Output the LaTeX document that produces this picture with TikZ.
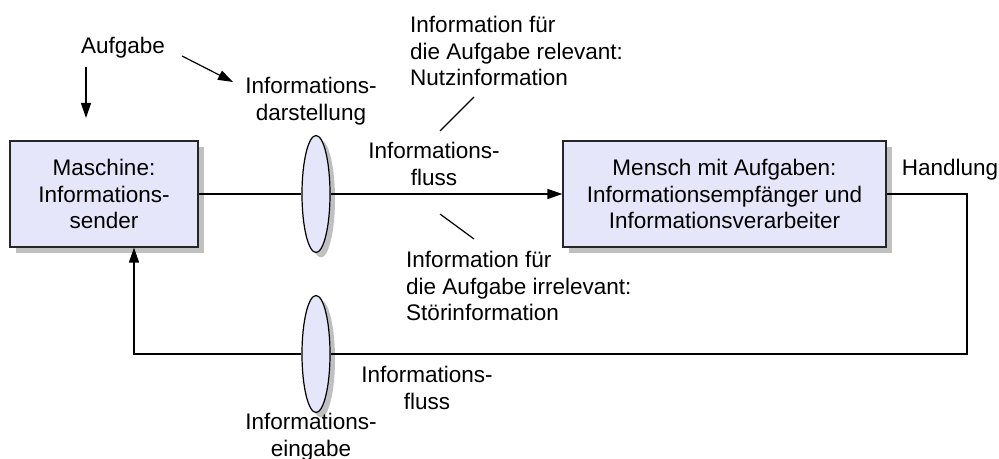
\documentclass[tikz,border=0pt]{standalone}
\usepackage{fontspec}
\setmainfont{Liberation Sans}
\usetikzlibrary{arrows.meta,shapes.geometric,shadows}
\definecolor{boxfill}{RGB}{230,230,250}
\definecolor{shadowgray}{RGB}{192,192,192}
\begin{document}
\begin{tikzpicture}[x=1bp,y=-1bp,
  every node/.style={font=\fontsize{22.6}{26.6}\selectfont, inner sep=0pt},
  conn/.style={line width=1.2bp, draw=black},
  tip/.style={-{Triangle[length=15bp,width=10bp]}},
  sysbox/.style={draw=black!85, line width=1.2bp, fill=boxfill, align=center,
    drop shadow={shadow xshift=6bp, shadow yshift=-6bp, fill=shadowgray, opacity=1}},
  lens/.style={ellipse, draw=black, line width=1.2bp, fill=boxfill,
    minimum width=28bp, minimum height=117bp,
    drop shadow={shadow xshift=5bp, shadow yshift=-5bp, fill=shadowgray, opacity=1}},
  lbl/.style={align=center},
  lbll/.style={align=left, anchor=west}]
\useasboundingbox (0,0) rectangle (999,459);

% system boxes
\node[sysbox, minimum width=188bp, minimum height=106bp] (masch) at (104,194)
  {Maschine:\\Informations-\\sender};
\node[sysbox, minimum width=323bp, minimum height=106bp] (mensch) at (724.5,194)
  {Mensch mit Aufgaben:\\Informationsempfänger und\\Informationsverarbeiter};

% lenses for display and input
\node[lens] (lensA) at (316,194) {};
\node[lens] (lensB) at (316,354) {};

% labels
\node[lbl] (aufg) at (123,48) {Aufgabe};
\node[lbl] (idarst) at (311,101) {Informations-\\darstellung};
\node[lbll] (nutz) at (410,51) {Information für\\die Aufgabe relevant:\\Nutzinformation};
\node[lbl] (fluss1) at (434,164) {Informations-\\fluss};
\node[lbll] (stoer) at (406,286) {Information für\\die Aufgabe irrelevant:\\Störinformation};
\node[lbl] (fluss2) at (427,388) {Informations-\\fluss};
\node[lbl] (eingabe) at (311,437) {Informations-\\eingabe};
\node[lbl] (handl) at (950,170) {Handlung};

% helper points
\coordinate (a1) at (86,67);
\coordinate (a2) at (86,118);
\coordinate (d1) at (182,56);
\coordinate (d2) at (233,82);
\coordinate (n1) at (440,131);
\coordinate (n2) at (474,97);
\coordinate (s1) at (440,214);
\coordinate (s2) at (474,239);
\coordinate (hr) at (967,194);
\coordinate (fb) at (134,354);

% forward information flow
\draw[conn] (masch.east) -- (lensA.west);
\draw[conn, tip] (lensA.east) -- (mensch.west);

% feedback loop
\draw[conn] (mensch.east) -- (hr) |- (lensB.east);
\draw[conn, tip] (lensB.west) -- (fb) -- (fb |- masch.south);

% task arrows
\draw[conn, tip] (a1) -- (a2);
\draw[conn, tip] (d1) -- (d2);

% relevance markers
\draw[conn] (n1) -- (n2);
\draw[conn] (s1) -- (s2);
\end{tikzpicture}
\end{document}
